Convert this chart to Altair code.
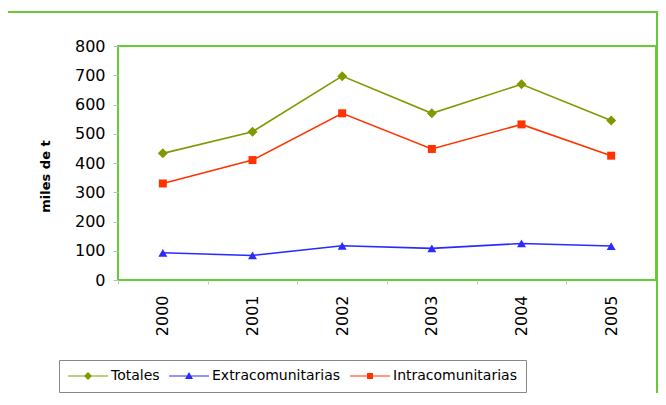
import altair as alt
import pandas as pd

years = ["2000", "2001", "2002", "2003", "2004", "2005"]
series = ["Totales", "Extracomunitarias", "Intracomunitarias"]
totales = [433, 507, 697, 570, 669, 545]
extra = [93, 84, 117, 108, 125, 116]
intra = [330, 410, 570, 448, 532, 425]

colors = ["#7f9a00", "#2b2bff", "#ff3300"]
shapes = ["diamond", "triangle-up", "square"]
sizes = [100, 80, 64]
# legend keys: a thin bar (the line) plus the marker, as filled paths
legend_shapes = [
    "M-5,-0.15L5,-0.15L5,0.15L-5,0.15ZM0,-1L1,0L0,1L-1,0Z",
    "M-5,-0.15L5,-0.15L5,0.15L-5,0.15ZM0,-1L1,0.75L-1,0.75Z",
    "M-5,-0.15L5,-0.15L5,0.15L-5,0.15ZM-0.75,-0.75L0.75,-0.75L0.75,0.75L-0.75,0.75Z",
]

rows = []
for name, vals in zip(series, [totales, extra, intra]):
    for y, v in zip(years, vals):
        rows.append({"year": y, "value": v, "serie": name})
df = pd.DataFrame(rows)
df_leg = pd.DataFrame({"serie": series})

FONT = "DejaVu Sans"
GREEN = "#66cc33"

xenc = alt.X(
    "year:O",
    bandPosition=0.5,
    scale=alt.Scale(type="band", paddingInner=0, paddingOuter=0),
    axis=alt.Axis(
        title=None, labelAngle=-90, labelAlign="right", labelBaseline="middle",
        labelFont=FONT, labelFontSize=16, labelColor="black", labelPadding=11,
        tickBand="extent", tickSize=4, tickColor="#b5dba5", domain=False,
    ),
)
yenc = alt.Y(
    "value:Q",
    scale=alt.Scale(domain=[0, 800]),
    axis=alt.Axis(
        title="miles de t", values=list(range(0, 801, 100)), grid=False,
        domain=False, tickSize=5, tickColor="#b5c5b5", labelPadding=8,
        labelFont=FONT, labelFontSize=16, labelColor="black",
        titleFont=FONT, titleFontSize=13, titleFontWeight="bold", titleColor="black",
        titleX=-73, titleY=130, titleAngle=-90, titleAlign="center", titleBaseline="middle",
    ),
)

series_layers = []
for name, col, shp, sz in zip(series, colors, shapes, sizes):
    base = alt.Chart(df).transform_filter(alt.datum.serie == name)
    series_layers.append(base.mark_line(strokeWidth=1.6, color=col).encode(x=xenc, y=yenc))
    series_layers.append(
        base.mark_point(filled=True, opacity=1, size=sz, shape=shp, color=col).encode(x=xenc, y=yenc)
    )

leg = alt.Legend(
    orient="none", legendX=-59, legendY=314, direction="horizontal", title=None,
    strokeColor="#888888", padding=9, labelFont=FONT, labelFontSize=14,
    labelColor="black", symbolOffset=13, labelOffset=16, columnPadding=9,
    symbolStrokeWidth=0, symbolSize=64,
)
legend_layer = alt.Chart(df_leg).mark_point(filled=True, opacity=1, size=64).encode(
    x=alt.value(-600), y=alt.value(-600),
    color=alt.Color("serie:N", scale=alt.Scale(domain=series, range=colors), legend=leg),
    shape=alt.Shape("serie:N", scale=alt.Scale(domain=series, range=legend_shapes), legend=leg),
)

frame = alt.Chart(df_leg).mark_rect(fill="transparent", stroke=GREEN, strokeWidth=2).encode(
    x=alt.value(-111), x2=alt.value(539), y=alt.value(-34), y2=alt.value(400)
)

chart = (
    alt.layer(frame, *series_layers, legend_layer)
    .properties(
        width=538, height=234, background="white",
        autosize=alt.AutoSizeParams(type="none"),
        padding={"left": 110, "top": 38, "right": 2, "bottom": 113},
    )
    .configure_view(stroke=GREEN, strokeWidth=2)
)

chart.save("out.html", embed_options={"renderer": "svg", "actions": False})
